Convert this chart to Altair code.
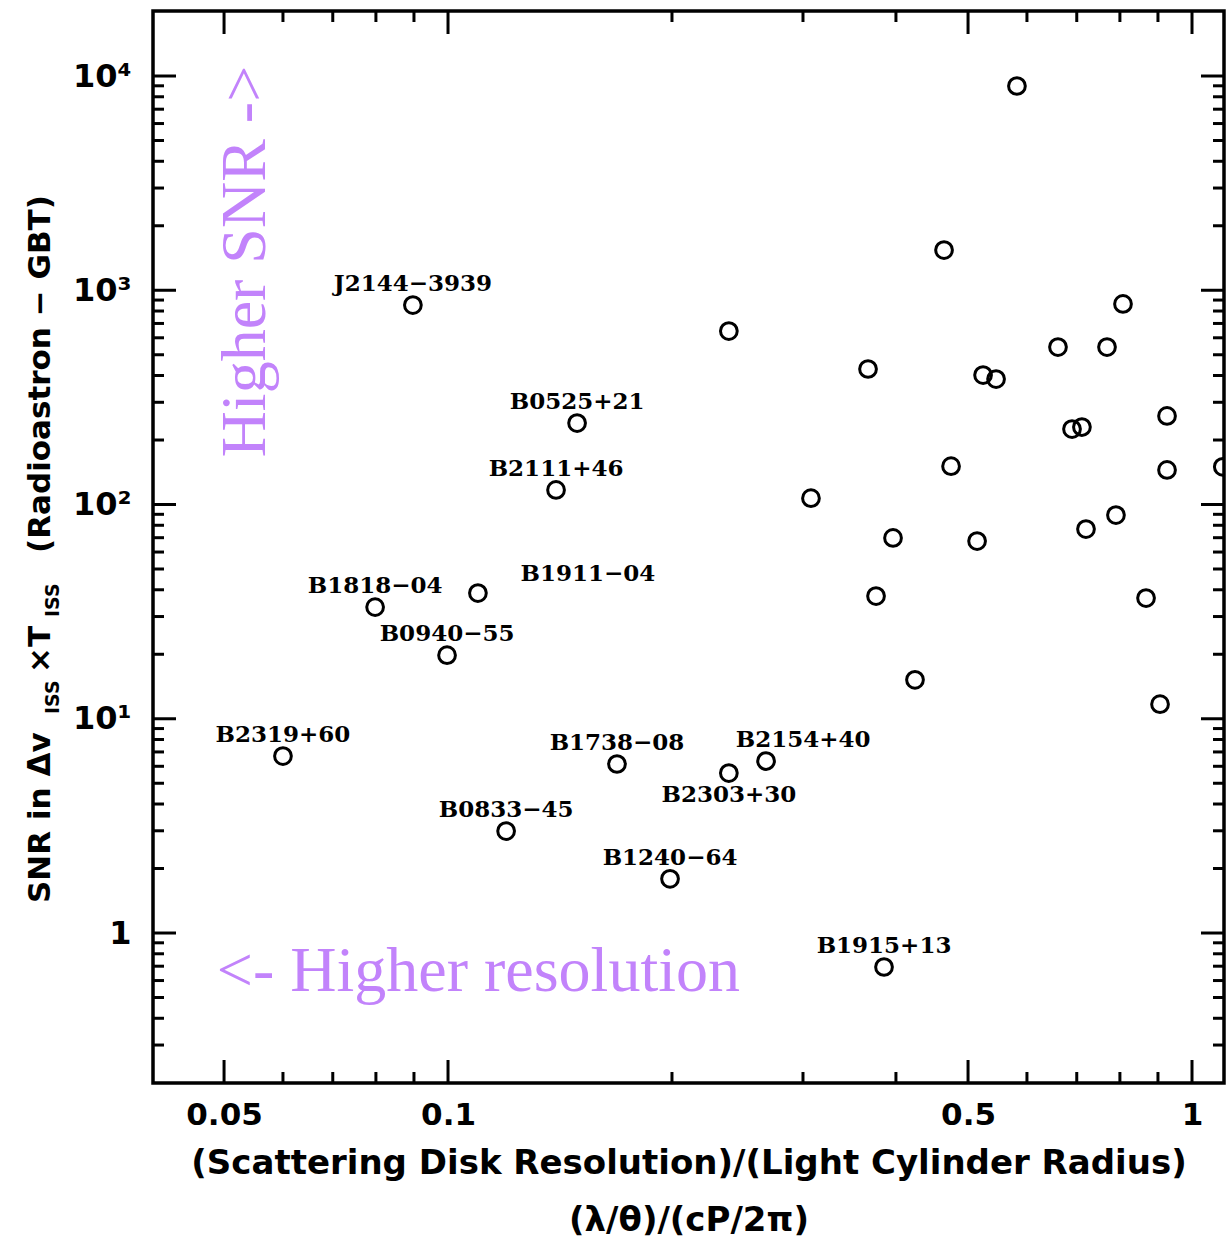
import altair as alt
import pandas as pd

# ---- data ----
psr_names = ["J2144−3939", "B0525+21", "B2111+46", "B1818−04", "B1911−04", "B0940−55",
             "B2319+60", "B1738−08", "B2154+40", "B2303+30", "B0833−45", "B1240−64", "B1915+13"]
psr_res = [0.0897, 0.1491, 0.1397, 0.0798, 0.1097, 0.0997,
           0.0600, 0.1687, 0.2676, 0.2385, 0.1197, 0.1988, 0.3855]
psr_snr = [853, 240, 117, 33.2, 38.6, 19.8,
           6.70, 6.15, 6.35, 5.58, 2.99, 1.79, 0.694]

other_res = [0.2385, 0.5817, 0.4642, 0.8077, 0.6605, 0.7687, 0.3669, 0.5238, 0.5453, 0.9256,
             0.6898, 0.7113, 0.4744, 0.9256, 1.100, 0.3075, 0.7903, 0.7203, 0.3964, 0.5142,
             0.3761, 0.8674, 0.4243, 0.9058]
other_snr = [645, 8982, 1541, 863, 543, 543, 429, 402, 385, 259,
             225, 230, 151, 145, 150, 107, 89.3, 76.8, 69.8, 67.5,
             37.4, 36.6, 15.2, 11.7]

x_label_values = [0.05, 0.1, 0.5, 1]
y_label_values = [1, 10, 100, 1000, 10000]
y_label_texts = ["1", "10¹", "10²", "10³", "10⁴"]

x_major_ticks = [0.05, 0.1, 0.5, 1]
x_minor_ticks = [0.06, 0.07, 0.08, 0.09, 0.2, 0.3, 0.4, 0.6, 0.7, 0.8, 0.9]
y_major_ticks = [1, 10, 100, 1000, 10000]
y_minor_ticks = [0.3, 0.4, 0.5, 0.6, 0.7, 0.8, 0.9,
                 2, 3, 4, 5, 6, 7, 8, 9,
                 20, 30, 40, 50, 60, 70, 80, 90,
                 200, 300, 400, 500, 600, 700, 800, 900,
                 2000, 3000, 4000, 5000, 6000, 7000, 8000, 9000]

x_title = ["(Scattering Disk Resolution)/(Light Cylinder Radius)", "(λ/θ)/(cP/2π)"]
y_title_parts = ["SNR in Δv", "×T", "(Radioastron − GBT)"]
y_title_sub = "ISS"

note_texts = ["<- Higher resolution", "Higher SNR ->"]
note_res = [0.0489, 0.0568]
note_snr = [0.536, 166.0]

x_domain = [0.04013, 1.1041]
y_domain = [0.1995, 20110]

# ---- layout ----
W, H = 1071, 1072
SANS = "DejaVu Sans"
SERIF = "DejaVu Serif"
PURPLE = "#C283FB"

xscale = alt.Scale(type="log", domain=x_domain, nice=False, zero=False)
yscale = alt.Scale(type="log", domain=y_domain, nice=False, zero=False)

pts = pd.DataFrame({
    "name": psr_names + [""] * len(other_res),
    "res": psr_res + other_res,
    "snr": psr_snr + other_snr,
})

label_expr = " : ".join(
    f"datum.value == {v} ? '{t}'" for v, t in zip(y_label_values, y_label_texts)
) + " : ''"

x_axis = alt.Axis(values=x_label_values, format="~g", ticks=False, domain=False, grid=False,
                  labelFont=SANS, labelFontWeight="bold", labelFontSize=31, labelColor="black",
                  labelPadding=17, labelFlush=False, labelOverlap=False,
                  title=x_title, titleFont=SANS, titleFontWeight="bold", titleFontSize=34,
                  titleColor="black", titlePadding=16, titleLineHeight=57)
y_axis = alt.Axis(values=y_label_values, labelExpr=label_expr, ticks=False, domain=False, grid=False,
                  labelFont=SANS, labelFontWeight="bold", labelFontSize=32, labelColor="black",
                  labelPadding=22, labelFlush=False, labelOverlap=False, title=None)


def X(field):
    return alt.X(field, scale=xscale, axis=x_axis)


def Y(field):
    return alt.Y(field, scale=yscale, axis=y_axis)


points = alt.Chart(pts).mark_point(shape="circle", filled=False, size=280, strokeWidth=3,
                                   color="black", opacity=1, clip=True).encode(
    x=X("res:Q"), y=Y("snr:Q"),
)

lab_base = alt.Chart(pts).transform_filter("datum.name != ''")


def labels(names, dx, dy):
    expr = " || ".join(f"datum.name == '{n}'" for n in names)
    return lab_base.transform_filter(expr).mark_text(
        font=SERIF, fontWeight="bold", fontSize=23, color="black", dx=dx, dy=dy,
        align="center", baseline="middle"
    ).encode(x=X("res:Q"), y=Y("snr:Q"), text="name:N")


special = ["B1911−04", "B2154+40", "B2303+30"]
lab_default = labels([n for n in psr_names if n not in special], 0, -21)
lab_1911 = labels(["B1911−04"], 110, -19)
lab_2154 = labels(["B2154+40"], 37, -21)
lab_2303 = labels(["B2303+30"], 0, 22)


# ---- inward ticks on all four sides ----
def xticks(vals, L):
    d = pd.DataFrame({"res": vals})
    base = alt.Chart(d).mark_rule(color="black", strokeWidth=3)
    return [base.encode(x=X("res:Q"), y=alt.value(H), y2=alt.value(H - L)),
            base.encode(x=X("res:Q"), y=alt.value(0), y2=alt.value(L))]


def yticks(vals, L):
    d = pd.DataFrame({"snr": vals})
    base = alt.Chart(d).mark_rule(color="black", strokeWidth=3)
    return [base.encode(y=Y("snr:Q"), x=alt.value(0), x2=alt.value(L)),
            base.encode(y=Y("snr:Q"), x=alt.value(W), x2=alt.value(W - L))]


tick_layers = xticks(x_major_ticks, 23) + xticks(x_minor_ticks, 11) + \
    yticks(y_major_ticks, 23) + yticks(y_minor_ticks, 11)


# ---- y-axis title with subscripts ----
def ytext(text, x, y, size):
    return alt.Chart(pd.DataFrame({"t": [text]})).mark_text(
        font=SANS, fontWeight="bold", fontSize=size, color="black", angle=270,
        align="left", baseline="alphabetic"
    ).encode(x=alt.value(x), y=alt.value(y), text="t:N")


ytitle_layers = [
    ytext(y_title_parts[0], -103, 892, 31),
    ytext(y_title_sub, -94, 703, 19),
    ytext(y_title_parts[1], -103, 662, 31),
    ytext(y_title_sub, -94, 606, 19),
    ytext(y_title_parts[2], -103, 542, 31),
]

# ---- purple annotations ----
notes = pd.DataFrame({"t": note_texts, "res": note_res, "snr": note_snr})
note_h = alt.Chart(notes).transform_filter(f"datum.t == '{note_texts[0]}'").mark_text(
    font="Liberation Serif", fontSize=64, color=PURPLE, align="left", baseline="alphabetic"
).encode(x=X("res:Q"), y=Y("snr:Q"), text="t:N")
note_v = alt.Chart(notes).transform_filter(f"datum.t == '{note_texts[1]}'").mark_text(
    font="Liberation Serif", fontSize=64, color=PURPLE, align="left", baseline="alphabetic", angle=270
).encode(x=X("res:Q"), y=Y("snr:Q"), text="t:N")

chart = alt.layer(
    points, *tick_layers, lab_default, lab_1911, lab_2154, lab_2303,
    note_h, note_v, *ytitle_layers
).properties(
    width=W, height=H,
    autosize=alt.AutoSizeParams(type="none"),
    padding={"left": 153, "top": 11, "right": 8, "bottom": 160},
    background="white",
).configure_view(stroke="black", strokeWidth=3.5)

chart.save("out.html", embed_options={"renderer": "svg", "actions": False})
